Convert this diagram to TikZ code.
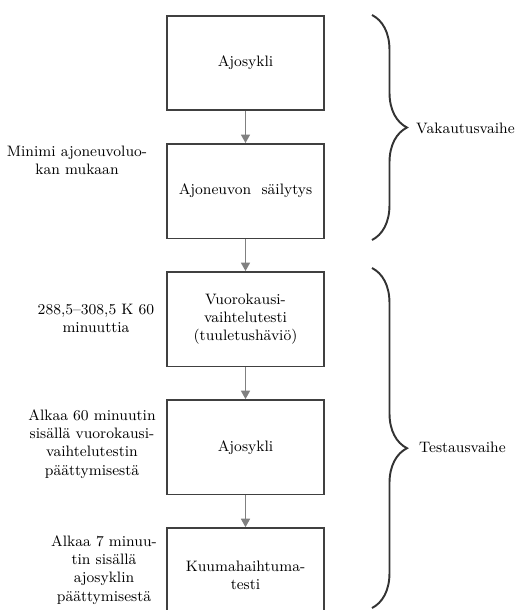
\documentclass[tikz,border=0pt]{standalone}
\usetikzlibrary{arrows.meta,positioning,decorations.pathreplacing}
\tikzset{>={Triangle[width=1.8mm,length=1.7mm]}}
\tikzset{stage/.style={shape=rectangle, draw=black!75, line width=0.9pt,
    minimum width=3.14cm, minimum height=1.89cm, inner sep=1mm,
    align=center, font=\fontsize{8.6}{10.3}\selectfont}}
\tikzset{note/.style={align=center, font=\fontsize{8.6}{10.3}\selectfont}}
\tikzset{flow/.style={->, draw=black!50, fill=black!50, line width=0.9pt}}
\tikzset{phase/.style={decorate, decoration={brace, amplitude=0.7cm},
    draw=black!80, line width=1.1pt}}

\begin{document}
\begin{tikzpicture}[x=0.02cm, y=-0.02cm, node distance=0.64cm]
    \clip (0,0) rectangle (529,610);
    % steps
    \node[stage] (s1) at (245.5,63) {Ajosykli};
    \node[stage] (s2) [below=of s1] {Ajoneuvon\ \ säilytys};
    \node[stage] (s3) [below=of s2] {Vuorokausi-\\vaihtelutesti\\(tuuletushäviö)};
    \node[stage] (s4) [below=of s3] {Ajosykli};
    \node[stage] (s5) [below=of s4] {Kuumahaihtuma-\\testi};

    \draw [flow] (s1) to (s2);
    \draw [flow] (s2) to (s3);
    \draw [flow] (s3) to (s4);
    \draw [flow] (s4) to (s5);

    % conditions on the left
    \node[note] (c2) at (77,160) {Minimi ajoneuvoluo-\\kan mukaan};
    \node[note] (c3) at (96,318) {288,5--308,5 K 60\\minuuttia};
    \node[note] (c4) at (92,444) {Alkaa 60 minuutin\\sisällä vuorokausi-\\vaihtelutestin\\päättymisestä};
    \node[note] (c5) at (104,570) {Alkaa 7 minuu-\\tin sisällä\\ajosyklin\\päättymisestä};

    % phases
    \coordinate (p1a) at (372,15);
    \coordinate (p1b) at (372,240);
    \coordinate (p2a) at (372,268);
    \coordinate (p2b) at (372,608);
    \draw [phase] (p1a) to (p1b);
    \draw [phase, decoration={aspect=0.53}] (p2a) to (p2b);
    \node[note, anchor=west] (v1) at (410,128) {Vakautusvaihe};
    \node[note, anchor=west] (v2) at (413,447) {Testausvaihe};
\end{tikzpicture}
\end{document}
